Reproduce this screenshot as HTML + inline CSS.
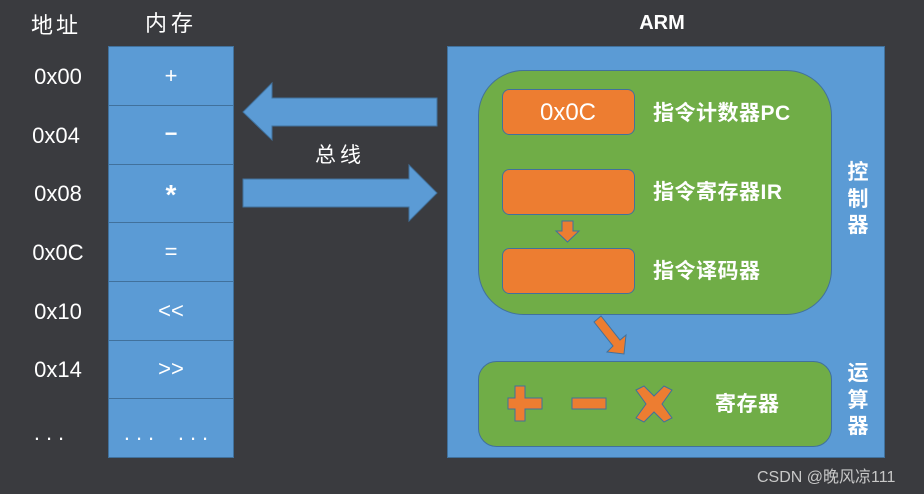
<!DOCTYPE html>
<html><head><meta charset="utf-8"><style>
body{margin:0;width:924px;height:494px;background:#3a3b3f;overflow:hidden;font-family:"Liberation Sans","Noto Sans CJK SC",sans-serif;}
</style></head><body>
<svg width="924" height="494" xmlns="http://www.w3.org/2000/svg" style="position:absolute;left:0;top:0">
<g font-family="'Liberation Sans','Noto Sans CJK SC',sans-serif" fill="#fff">
<text x="56" y="33" font-size="22" text-anchor="middle" letter-spacing="3">地址</text>
<text x="171" y="31" font-size="22" text-anchor="middle" letter-spacing="4">内存</text>
<text x="662" y="29" font-size="20" text-anchor="middle" font-weight="bold">ARM</text>
<g font-size="22" text-anchor="middle">
<text x="58" y="84">0x00</text><text x="56" y="143">0x04</text><text x="58" y="201">0x08</text>
<text x="58" y="260">0x0C</text><text x="58" y="319">0x10</text><text x="58" y="377">0x14</text>
<text x="52" y="440" letter-spacing="6">...</text>
</g>
</g>
<g fill="#5b9bd5" stroke="#41719c" stroke-width="1">
<rect x="108.5" y="46.5" width="125" height="411"/>
<line x1="108" y1="105.5" x2="233" y2="105.5"/><line x1="108" y1="164.5" x2="233" y2="164.5"/>
<line x1="108" y1="222.5" x2="233" y2="222.5"/><line x1="108" y1="281.5" x2="233" y2="281.5"/>
<line x1="108" y1="340.5" x2="233" y2="340.5"/><line x1="108" y1="398.5" x2="233" y2="398.5"/>
<polygon points="243,112 272,83 272,98 437,98 437,126 272,126 272,140"/>
<polygon points="243,179 409,179 409,165 437,193 409,221 409,207 243,207"/>
<rect x="447.5" y="46.5" width="437" height="411"/>
</g>
<g fill="#fff" font-size="22" text-anchor="middle">
<text x="171" y="83">+</text><text x="171" y="141" font-weight="bold">−</text><text x="171" y="204" font-size="28" font-weight="bold">*</text>
<text x="171" y="259">=</text><text x="171" y="318">&lt;&lt;</text><text x="171" y="376">&gt;&gt;</text>
<text x="142" y="440" letter-spacing="6">...</text><text x="196" y="440" letter-spacing="6">...</text>
<text x="340" y="162" font-size="21" letter-spacing="4">总线</text>
</g>
<g stroke="#41719c" stroke-width="1">
<rect x="478.5" y="70.5" width="353" height="244" rx="45" fill="#70ad47"/>
<rect x="478.5" y="361.5" width="353" height="85" rx="18" fill="#70ad47"/>
<g fill="#ed7d31">
<rect x="502.5" y="89.5" width="132" height="45" rx="7"/>
<rect x="502.5" y="169.5" width="132" height="45" rx="7"/>
<rect x="502.5" y="248.5" width="132" height="45" rx="7"/>
<polygon points="562,221 573,221 573,231 579,231 567.5,242 556,231 562,231"/>
<polygon points="594,322 601,316 620,340 626,335 624,354 607,352 613,346"/>
<polygon points="515,386 525,386 525,398 542,398 542,409 525,409 525,421 515,421 515,409 508,409 508,398 515,398"/>
<rect x="572" y="398" width="34" height="11"/>
<polygon points="636,390 644,386 654,396 664,386 672,390 662,404 672,418 664,422 654,412 644,422 636,418 646,404"/>
</g>
</g>
<g fill="#fff" font-size="21" font-weight="bold">
<text x="568" y="120" font-size="24" font-weight="normal" text-anchor="middle">0x0C</text>
<text x="653" y="120" letter-spacing="0.5">指令计数器PC</text>
<text x="653" y="199" letter-spacing="0.5">指令寄存器IR</text>
<text x="653" y="278" letter-spacing="0.5">指令译码器</text>
<text x="715" y="411" letter-spacing="0.5">寄存器</text>
<g text-anchor="middle">
<text x="858" y="179">控</text><text x="858" y="206">制</text><text x="858" y="232">器</text>
<text x="858" y="380">运</text><text x="858" y="407">算</text><text x="858" y="433">器</text>
</g>
</g>
<text x="757" y="482" fill="#c8c8c8" font-size="16" font-family="'Liberation Sans','Noto Sans CJK SC',sans-serif">CSDN @晚风凉111</text>
</svg>
</body></html>
